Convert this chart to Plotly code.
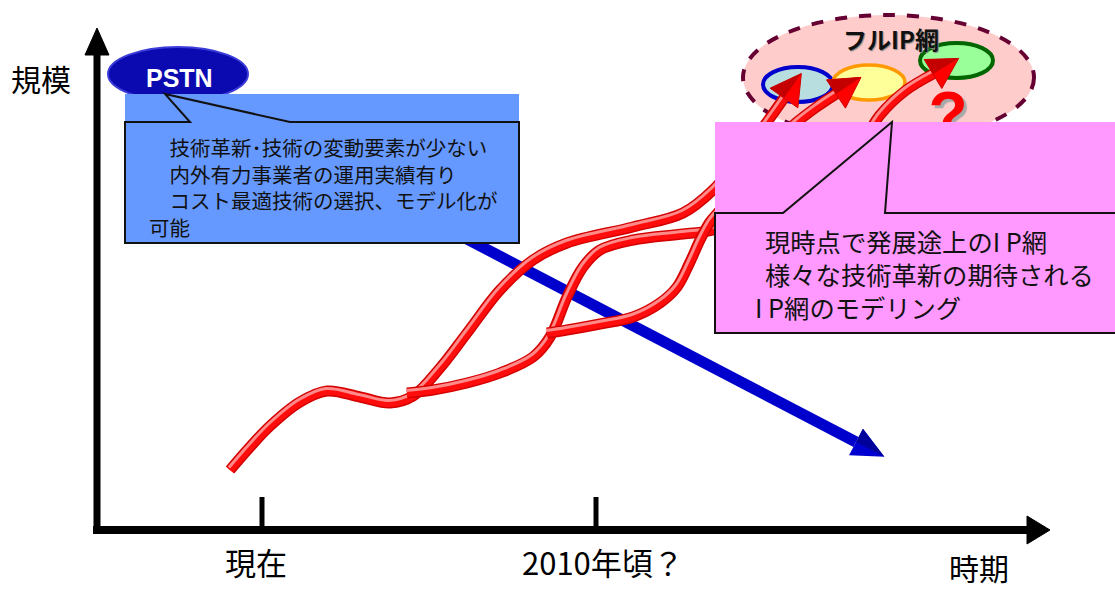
import numpy as np
import plotly.graph_objects as go

# ---------------- data (diagram units = px, y grows downward) ----------------
# red "IP network" growth tubes
path_a_x = [230, 250, 270, 300, 327, 360, 390, 413, 440, 467, 500, 533, 567, 633, 683, 713, 742, 767, 784]
path_a_y = [470, 447, 426, 402, 391, 397, 403, 396, 368, 333, 290, 260, 243, 227, 213, 190, 155, 122, 98]
path_b_x = [407, 433, 467, 500, 533, 550, 567, 583, 600, 633, 683, 713, 760, 820, 860, 880, 905, 933]
path_b_y = [393, 390, 383, 373, 357, 337, 297, 267, 250, 240, 234, 230, 210, 180, 145, 115, 91, 74]
path_c_x = [547, 567, 600, 633, 660, 677, 690, 700, 710, 722, 745, 770, 797, 818, 836]
path_c_y = [333, 330, 324, 317, 303, 287, 262, 240, 222, 208, 180, 148, 122, 106, 94]
# blue "PSTN" decline arrow
pstn_x = [350, 856]
pstn_y = [178, 442]

# axis texts
y_title = "規模"
x_title = "時期"
tick_labels = ["現在", "2010年頃？"]
tick_x = [262, 596]

pstn_label = "PSTN"
ip_label = "フルIP網"
pstn_notes = ["　技術革新･技術の変動要素が少ない", "　内外有力事業者の運用実績有り",
              "　コスト最適技術の選択、モデル化が", "可能"]
ip_notes = ["現時点で発展途上のI P網", "様々な技術革新の期待される", "I P網のモデリング"]

JP = "Noto Sans CJK JP"

fig = go.Figure()


def head(xs, ys, L, hw):
    p = np.array([xs[-1], ys[-1]], float)
    q = np.array([xs[-2], ys[-2]], float)
    d = p - q
    d /= np.linalg.norm(d)
    n = np.array([-d[1], d[0]])
    tip = p + d * L
    b1 = p + n * hw
    b2 = p - n * hw
    return tip, b1, b2, p


def add_tri(pts, color, lc=None, lw=0):
    fig.add_trace(go.Scatter(x=[pt[0] for pt in pts] + [pts[0][0]],
                             y=[pt[1] for pt in pts] + [pts[0][1]],
                             mode="lines", fill="toself", fillcolor=color,
                             line=dict(color=lc or color, width=lw), hoverinfo="skip"))


# blue arrow
fig.add_trace(go.Scatter(x=pstn_x, y=pstn_y, mode="lines",
                         line=dict(color="#0000CC", width=11), hoverinfo="skip"))
tip, b1, b2, p = head(pstn_x, pstn_y, 32, 15)
add_tri([tip, b1, b2], "#0000D0")
add_tri([tip, p, b2], "#00009A")

# red question mark (partly hidden behind the pink box)
fig.add_trace(go.Scatter(x=[948], y=[121], mode="text", text=["?"],
                         textfont=dict(size=64, color="#FF0000", family="Liberation Sans",
                                       weight="bold", shadow="3px 3px 1px #A8A8A8"),
                         hoverinfo="skip"))

# red tubes
for xs, ys in [(path_a_x, path_a_y), (path_b_x, path_b_y), (path_c_x, path_c_y)]:
    xa = np.array(xs, float)
    ya = np.array(ys, float)
    fig.add_trace(go.Scatter(x=xa, y=ya, mode="lines",
                             line=dict(color="#D20000", width=11, shape="spline", smoothing=1.0),
                             hoverinfo="skip"))
    fig.add_trace(go.Scatter(x=xa, y=ya, mode="lines",
                             line=dict(color="#FF0C0C", width=8, shape="spline", smoothing=1.0),
                             hoverinfo="skip"))
    fig.add_trace(go.Scatter(x=xa - 1, y=ya - 2.5, mode="lines",
                             line=dict(color="#FF8A8A", width=3, shape="spline", smoothing=1.0),
                             hoverinfo="skip"))

for xs, ys in [(path_a_x, path_a_y), (path_b_x, path_b_y), (path_c_x, path_c_y)]:
    tip, b1, b2, p = head(xs, ys, 30, 17)
    add_tri([tip, b1, b2], "#FF0000", "#D00000", 1)
    add_tri([tip, p, b2], "#C40000")

shapes = [
    # axes
    dict(type="line", x0=97, x1=97, y0=534, y1=50, line=dict(color="black", width=7), layer="below"),
    dict(type="path", path="M97,28 L85,55 L109,55 Z", fillcolor="black", line=dict(color="black", width=1), layer="below"),
    dict(type="line", x0=93, x1=1030, y0=530, y1=530, line=dict(color="black", width=8), layer="below"),
    dict(type="path", path="M1050,530 L1027,516 L1027,544 Z", fillcolor="black", line=dict(color="black", width=1), layer="below"),
    # PSTN ellipse
    dict(type="circle", x0=108, x1=248, y0=47, y1=101, fillcolor="#0A0AB0",
         line=dict(color="#3C3CD8", width=2), layer="below"),
    # full IP network ellipse
    dict(type="circle", x0=743, x1=1034, y0=15, y1=140, fillcolor="#FFCCCC",
         line=dict(color="#660033", width=4, dash="dash"), layer="below"),
    dict(type="circle", x0=763, x1=833, y0=67, y1=102, fillcolor="#B8DEE0",
         line=dict(color="#0000CC", width=4), layer="below"),
    dict(type="circle", x0=833, x1=905, y0=65, y1=100, fillcolor="#FFFF99",
         line=dict(color="#FF9900", width=3.5), layer="below"),
    dict(type="circle", x0=920, x1=993, y0=43, y1=78, fillcolor="#99FF99",
         line=dict(color="#006600", width=4), layer="below"),
    # blue callout
    dict(type="rect", x0=125, x1=519, y0=94, y1=122, fillcolor="#6699FF", line=dict(width=0), layer="above"),
    dict(type="path", path="M125,122 L190,122 L165,94 L290,122 L519,122 L519,243 L125,243 Z",
         fillcolor="#6699FF", line=dict(color="#111111", width=2), layer="above"),
    # pink callout
    dict(type="rect", x0=715, x1=1120, y0=122, y1=213, fillcolor="#FF99FF", line=dict(width=0), layer="above"),
    dict(type="path", path="M715,213 L783,213 L892,122 L885,213 L1125,213 L1125,333 L715,333 Z",
         fillcolor="#FF99FF", line=dict(color="#111111", width=2), layer="above"),
]
for tx in tick_x:
    shapes.append(dict(type="line", x0=tx, x1=tx, y0=497, y1=528,
                       line=dict(color="black", width=5), layer="below"))

ann = []
ann.append(dict(x=179, y=78, text="<b>" + pstn_label + "</b>", showarrow=False,
                font=dict(family="Liberation Sans", size=25, color="white")))
ann.append(dict(x=891, y=38, text="<b>" + ip_label + "</b>", showarrow=False,
                font=dict(family=JP, size=24, color="#111111", shadow="1px 1px 1px #888888")))
ann.append(dict(x=147, y=186.5, text="<br>".join(pstn_notes), showarrow=False,
                xanchor="left", yanchor="middle", align="left",
                font=dict(family=JP, size=20.5, color="#111111")))
for txt, x, y in zip(ip_notes, [763, 763, 753], [241, 274, 307]):
    ann.append(dict(x=x, y=y, text=txt, showarrow=False, xanchor="left", yanchor="middle",
                    height=30, font=dict(family=JP, size=25.3, color="#111111")))
ann.append(dict(x=41, y=78, text=y_title, showarrow=False, font=dict(family=JP, size=30, color="black")))
ann.append(dict(x=979, y=567, text=x_title, showarrow=False,
                font=dict(family=JP, size=30, color="black")))
for txt, tx in zip(tick_labels, tick_x):
    ann.append(dict(x=tx - 6 if txt == "現在" else tx + 7, y=561, text=txt, showarrow=False,
                    font=dict(family=JP, size=31, color="black")))
for a in ann:
    a["xref"] = "x"
    a["yref"] = "y"

fig.update_layout(
    width=1115, height=590,
    margin=dict(l=0, r=0, t=0, b=0),
    xaxis=dict(range=[0, 1115], visible=False, fixedrange=True),
    yaxis=dict(range=[590, 0], visible=False, fixedrange=True),
    plot_bgcolor="white", paper_bgcolor="white",
    showlegend=False, hovermode=False,
    shapes=shapes, annotations=ann,
)

fig.write_html("out.html", config={"displayModeBar": False},
               post_script="document.body.style.margin='0';document.body.style.overflow='hidden';")
